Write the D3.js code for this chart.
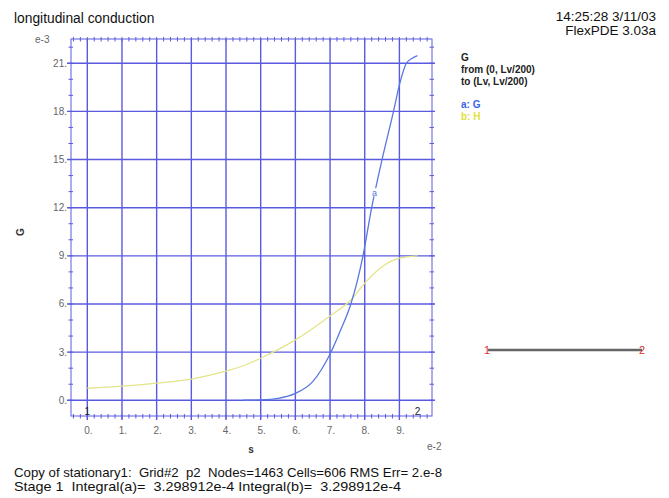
<!DOCTYPE html>
<html><head><meta charset="utf-8">
<script src="https://cdn.jsdelivr.net/npm/d3@7"></script>
<style>
body{margin:0;background:#fff;}
svg{display:block;font-family:"Liberation Sans",Arial,sans-serif;}
</style></head>
<body>
<svg id="c" width="669" height="498"></svg>
<script>
// Data (s in units of e-2, values in units of e-3)
const sG = [4.5, 5.0, 5.5, 6.0, 6.5, 7.0, 7.3, 7.6, 7.95, 8.2, 8.5, 8.83, 9.0, 9.2, 9.36, 9.52];
const valG = [0, 0.02, 0.12, 0.43, 1.16, 2.88, 4.35, 6.0, 9.0, 12.0, 15.0, 18.0, 19.65, 21.0, 21.3, 21.47];
const sH = [0, 1, 2, 3, 3.82, 4.5, 5, 6, 7, 7.6, 8, 8.5, 9, 9.52];
const valH = [0.75, 0.88, 1.07, 1.32, 1.72, 2.15, 2.62, 3.76, 5.25, 6.25, 7.29, 8.32, 8.85, 9.0];
const xTicks = [0,1,2,3,4,5,6,7,8,9];
const yTicks = [0,3,6,9,12,15,18,21];
const xTickLabels = xTicks.map(d => d + ".");
const yTickLabels = yTicks.map(d => d + ".");

const svg = d3.select("#c");
const L = 71, R = 432, T = 39, B = 416;
const x = d3.scaleLinear().domain([-0.47, 9.94]).range([L, R]);
const y = d3.scaleLinear().domain([-0.98, 22.51]).range([B, T]);
const gridC = "#5a5ae0";

// grid
const g = svg.append("g");
g.selectAll(".vg").data(xTicks).join("line")
  .attr("x1", d => x(d)).attr("x2", d => x(d)).attr("y1", T).attr("y2", B + 4)
  .attr("stroke", gridC).attr("stroke-width", 1.4);
g.selectAll(".hg").data(yTicks).join("line")
  .attr("y1", d => y(d)).attr("y2", d => y(d)).attr("x1", L - 4).attr("x2", R + 3)
  .attr("stroke", gridC).attr("stroke-width", 1.4);
// frame
g.append("rect").attr("x", L).attr("y", T).attr("width", R - L).attr("height", B - T)
  .attr("fill", "none").attr("stroke", gridC).attr("stroke-width", 1);
// minor ticks
const xMinor = d3.range(-0.4, 9.9, 0.2);
const yMinor = d3.range(-0, 22.5, 1);
[B, T].forEach(yy => {
  g.append("g").selectAll("line").data(xMinor).join("line")
    .attr("x1", d => x(d)).attr("x2", d => x(d)).attr("y1", yy - 2).attr("y2", yy + 2.5)
    .attr("stroke", gridC).attr("stroke-width", 1);
});
[L, R].forEach(xx => {
  g.append("g").selectAll("line").data(yMinor).join("line")
    .attr("y1", d => y(d)).attr("y2", d => y(d)).attr("x1", xx - 2.5).attr("x2", xx + 2)
    .attr("stroke", gridC).attr("stroke-width", 1);
});

// tick labels
g.append("g").selectAll("text").data(xTicks).join("text")
  .attr("x", d => x(d) + 1).attr("y", 434).attr("text-anchor", "middle")
  .attr("font-size", 10).attr("fill", "#666").text((d, i) => xTickLabels[i]);
g.append("g").selectAll("text").data(yTicks).join("text")
  .attr("x", 67).attr("y", d => y(d) + 3.5).attr("text-anchor", "end")
  .attr("font-size", 10).attr("fill", "#666").text((d, i) => yTickLabels[i]);

svg.append("text").attr("x", 35).attr("y", 43).attr("font-size", 10).attr("fill", "#666").text("e-3");
svg.append("text").attr("x", 427).attr("y", 450).attr("font-size", 10).attr("fill", "#666").text("e-2");
svg.append("text").attr("x", 251).attr("y", 453).attr("text-anchor", "middle").attr("font-size", 10).attr("font-weight", "bold").attr("fill", "#333").text("s");
svg.append("text").attr("transform", "translate(24,232) rotate(-90)").attr("text-anchor", "middle").attr("font-size", 10).attr("font-weight", "bold").attr("fill", "#333").text("G");

// curves
const line = d3.line().x(d => x(d[0])).y(d => y(d[1])).curve(d3.curveMonotoneX);
svg.append("path").datum(sH.map((s, i) => [s, valH[i]])).attr("d", line)
  .attr("fill", "none").attr("stroke", "#e4e48a").attr("stroke-width", 1.3);
svg.append("path").datum(sG.map((s, i) => [s, valG[i]])).attr("d", line)
  .attr("fill", "none").attr("stroke", "#5878e0").attr("stroke-width", 1.3);
// curve label
svg.append("rect").attr("x", x(8.28) - 3).attr("y", y(12.9) - 5).attr("width", 7).attr("height", 8).attr("fill", "#fff");
svg.append("text").attr("x", x(8.28)).attr("y", y(12.9) + 3).attr("text-anchor", "middle")
  .attr("font-size", 9).attr("fill", "#5878e0").text("a");

// end labels
svg.append("text").attr("x", x(0)).attr("y", 415).attr("text-anchor", "middle").attr("font-size", 10).attr("fill", "#222").text("1");
svg.append("text").attr("x", x(9.52)).attr("y", 415).attr("text-anchor", "middle").attr("font-size", 10).attr("fill", "#222").text("2");

// title and header
svg.append("text").attr("x", 14).attr("y", 23).attr("font-size", 13.8).attr("fill", "#111").text("longitudinal conduction");
svg.append("text").attr("x", 656).attr("y", 21).attr("text-anchor", "end").attr("font-size", 13.5).attr("fill", "#111").text("14:25:28 3/11/03");
svg.append("text").attr("x", 656).attr("y", 35).attr("text-anchor", "end").attr("font-size", 13.5).attr("fill", "#111").text("FlexPDE 3.03a");

// legend
const leg = [
  {t: "G", y: 61, c: "#222"},
  {t: "from (0, Lv/200)", y: 73, c: "#222"},
  {t: "to (Lv, Lv/200)", y: 85, c: "#222"},
  {t: "a: G", y: 108, c: "#3a64e6"},
  {t: "b: H", y: 120, c: "#e0e040"}
];
svg.append("g").selectAll("text").data(leg).join("text")
  .attr("x", 461).attr("y", d => d.y).attr("font-size", 10).attr("font-weight", "bold")
  .attr("fill", d => d.c).text(d => d.t);

// path diagram
svg.append("line").attr("x1", 488).attr("x2", 642).attr("y1", 350).attr("y2", 350)
  .attr("stroke", "#666").attr("stroke-width", 2.5);
svg.append("text").attr("x", 487).attr("y", 354).attr("text-anchor", "middle").attr("font-size", 11).attr("fill", "#e03030").text("1");
svg.append("text").attr("x", 642).attr("y", 354).attr("text-anchor", "middle").attr("font-size", 11).attr("fill", "#e03030").text("2");

// footer
svg.append("text").attr("x", 14).attr("y", 477).attr("font-size", 13).attr("fill", "#111").attr("xml:space", "preserve")
  .attr("textLength", 428).attr("lengthAdjust", "spacingAndGlyphs")
  .text("Copy of stationary1:  Grid#2  p2  Nodes=1463 Cells=606 RMS Err= 2.e-8");
svg.append("text").attr("x", 14).attr("y", 491).attr("font-size", 13).attr("fill", "#111").attr("xml:space", "preserve")
  .attr("textLength", 387).attr("lengthAdjust", "spacingAndGlyphs")
  .text("Stage 1  Integral(a)=  3.298912e-4 Integral(b)=  3.298912e-4");
</script>
</body></html>
